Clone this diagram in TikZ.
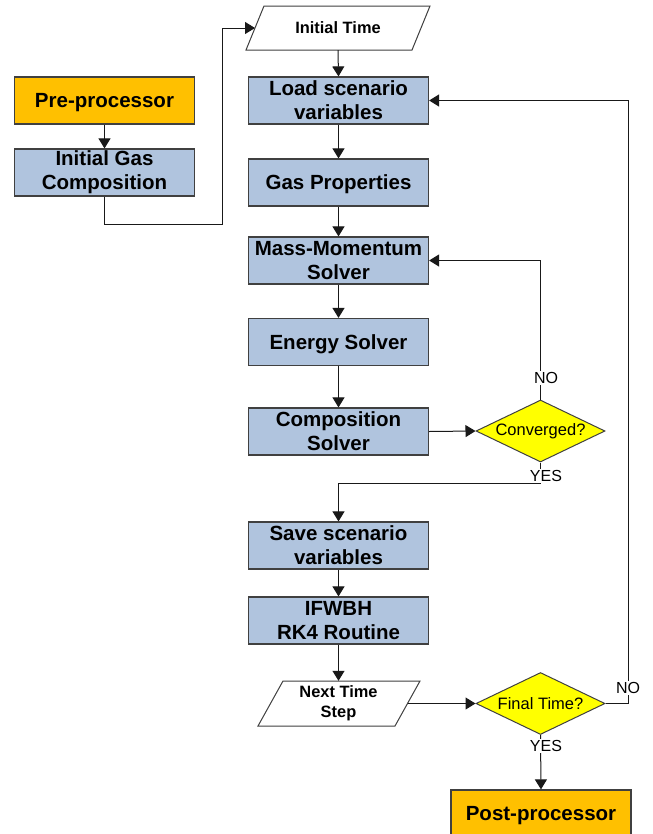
\documentclass[tikz,border=0pt]{standalone}
\usepackage{fontspec}
\setmainfont{Liberation Sans}
\usetikzlibrary{arrows.meta,shapes.geometric}
\definecolor{boxblue}{RGB}{176,196,222}
\definecolor{boxorange}{RGB}{255,192,0}
\definecolor{dyellow}{RGB}{255,255,0}
\definecolor{edgegray}{RGB}{64,64,64}
\begin{document}
\begin{tikzpicture}[x=1bp,y=-1bp,
  proc/.style={draw=edgegray, line width=1.2bp, fill=boxblue, minimum width=180bp, minimum height=47bp, inner sep=0pt, align=center, font=\fontsize{20.5bp}{24bp}\selectfont\bfseries},
  oneline/.style={text height=14.7bp, text depth=0bp},
  term/.style={proc, fill=boxorange},
  dec/.style={diamond, aspect=2.08, draw=edgegray, line width=1bp, fill=dyellow, minimum width=129bp, minimum height=62bp, inner sep=0pt, font=\fontsize{16.5bp}{19bp}\selectfont},
  ptext/.style={inner sep=0pt, align=center, font=\fontsize{16.4bp}{20bp}\selectfont\bfseries},
  pshape/.style={draw=edgegray, line width=1bp, fill=white},
  lbl/.style={fill=white, inner sep=1bp, font=\fontsize{16bp}{19bp}\selectfont},
  conn/.style={draw=black!90, line width=1bp, -{Triangle[length=10bp,width=12bp]}}]
\useasboundingbox (0,0) rectangle (653,834);
\fill[white] (0,0) rectangle (653,834);

% parallelogram shapes
\draw[pshape] (264,6) -- (430,6) -- (412,50) -- (246,50) -- cycle;
\draw[pshape] (283,681) -- (420,681) -- (395,726) -- (258,726) -- cycle;

% nodes
\node[term, oneline] (pre) at (104.5,100.5) {Pre-processor};
\node[proc] (igc) at (104.5,172.5) {Initial Gas\\Composition};
\node[ptext, minimum height=44bp] (it) at (338,28) {Initial Time};
\coordinate (itL) at (255,28);
\node[proc] (load) at (338.5,100.5) {Load scenario\\variables};
\node[proc, oneline] (gas) at (338.5,182.5) {Gas Properties};
\node[proc] (mm) at (338.5,260.5) {Mass-Momentum\\Solver};
\node[proc, oneline] (en) at (338.5,342) {Energy Solver};
\node[proc] (comp) at (338.5,431.5) {Composition\\Solver};
\node[dec] (conv) at (540.5,431) {Converged?};
\node[proc] (save) at (338.5,545.5) {Save scenario\\variables};
\node[proc] (rk) at (338.5,620.5) {IFWBH\\RK4 Routine};
\node[ptext, minimum height=45bp] (nts) at (338.5,703.5) {Next Time\\Step};
\coordinate (ntsR) at (407.5,703.5);
\node[dec] (fin) at (540.5,703.5) {Final Time?};
\node[term, oneline] (post) at (541,813.5) {Post-processor};

% connectors
\draw[conn] (pre) -- (igc);
\draw[conn] (igc.south) |- (222,224) |- (itL);
\draw[conn] (it.south) -- (load.north);
\draw[conn] (load) -- (gas);
\draw[conn] (gas) -- (mm);
\draw[conn] (mm) -- (en);
\draw[conn] (en) -- (comp);
\draw[conn] (comp.east) -- (conv.west);
\draw[conn] (conv.north) |- (mm.east);
\draw[conn] (conv.south) -- ++(0,21) -| (save.north);
\draw[conn] (save) -- (rk);
\draw[conn] (rk.south) -- (nts.north);
\draw[conn] (ntsR) -- (fin.west);
\draw[conn] (fin.east) -- ++(23,0) |- (load.east);
\draw[conn] (fin.south) -- (post.north);

% labels
\node[lbl] (no1) at (546,378) {NO};
\node[lbl] (yes1) at (546,476) {YES};
\node[lbl] (no2) at (628,688) {NO};
\node[lbl] (yes2) at (546,746) {YES};
\end{tikzpicture}
\end{document}
